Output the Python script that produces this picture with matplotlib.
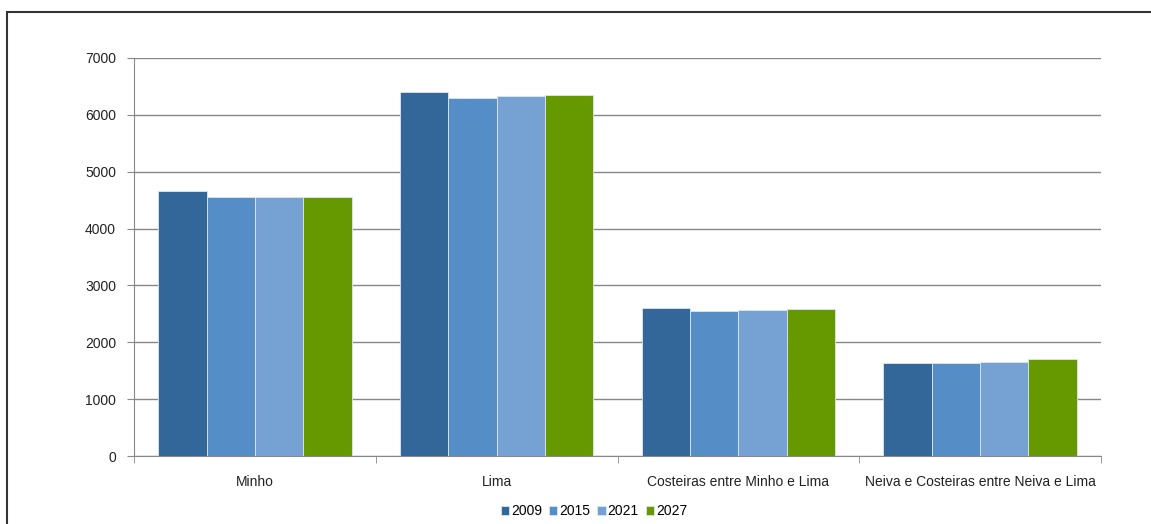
import matplotlib.pyplot as plt
import numpy as np
from matplotlib.patches import Rectangle

plt.rcParams['font.family'] = ['Liberation Sans', 'DejaVu Sans']

categories = ["Minho", "Lima", "Costeiras entre Minho e Lima",
              "Neiva e Costeiras entre Neiva e Lima"]
years = ["2009", "2015", "2021", "2027"]
v2009 = [4665, 6400, 2597, 1636]
v2015 = [4555, 6296, 2556, 1636]
v2021 = [4555, 6331, 2573, 1659]
v2027 = [4555, 6349, 2591, 1700]
colors = ["#336699", "#558ec7", "#75a2d3", "#669900"]

series = [v2009, v2015, v2021, v2027]

fig = plt.figure(figsize=(11.51, 5.24), dpi=100)
ax = fig.add_axes([134/1151, 1-456/524, (1101-134)/1151, (456-58)/524])

x = np.arange(len(categories))
w = 0.2
for i in range(4):
    ax.bar(x - 0.3 + i*w, series[i], width=w, color=colors[i],
           edgecolor="#dde6f0", linewidth=0.6, label=years[i], zorder=3)

ax.set_xlim(-0.5, 3.5)
ax.set_ylim(0, 7000)
ax.set_yticks(np.arange(0, 7001, 1000))
ax.yaxis.grid(True, color="#888888", linewidth=1, zorder=0)
ax.set_axisbelow(True)

ax.set_xticks(x)
ax.set_xticklabels(categories, fontsize=10)
ax.tick_params(axis="x", length=0, pad=14, colors="#222222")
ax.set_xticks(np.arange(-0.5, 4, 1), minor=True)
ax.tick_params(axis="x", which="minor", length=5, color="#888888", direction="out")
ax.tick_params(axis="y", length=5, color="#888888", labelsize=10, pad=8,
               labelcolor="#222222")

for s in ["top", "right"]:
    ax.spines[s].set_visible(False)
for s in ["left", "bottom"]:
    ax.spines[s].set_color("#888888")

leg = fig.legend(loc="center", bbox_to_anchor=(594/1151, 1-511/524), ncol=4,
                 frameon=False, fontsize=10, handlelength=0.6, handleheight=0.6,
                 handletextpad=0.15, columnspacing=0.5)

fig.patches.append(Rectangle((7/1151, -0.1), 1.2, 1.1 - 12/524,
                             transform=fig.transFigure, fill=False,
                             edgecolor="#333333", linewidth=1.5))

fig.savefig("out.png", dpi=100)
